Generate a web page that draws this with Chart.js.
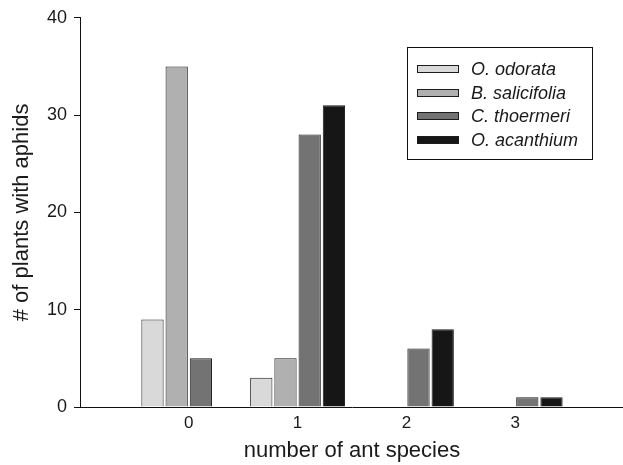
<!DOCTYPE html>
<html><head><meta charset="utf-8">
<script src="https://cdn.jsdelivr.net/npm/chart.js@4"></script>
<style>
html,body{margin:0;padding:0;background:#fff;overflow:hidden;}
#wrap{width:623px;height:465px;overflow:hidden;position:relative;}
canvas{display:block;}
</style></head><body>
<div id="wrap"><canvas id="c" width="630" height="465"></canvas></div>
<script>
// ---- data ----
const categories = ['0', '1', '2', '3'];
const seriesNames = ['O. odorata', 'B. salicifolia', 'C. thoermeri', 'O. acanthium'];
const odorata     = [9, 3, 0, 0];
const salicifolia = [35, 5, 0, 0];
const thoermeri   = [5, 28, 6, 1];
const acanthium   = [0, 31, 8, 1];
const yTicks = [0, 10, 20, 30, 40];
const xTitle = 'number of ant species';
const yTitle = '# of plants with aphids';

// ---- styles ----
const fills = ['#d9d9d9', '#b0b0b0', '#737373', '#161616'];
const FONT = '"Liberation Sans", Arial, Helvetica, sans-serif';
const TXT = '#1a1a1a';

// empty slot on each side of the categories (axis spans one extra slot)
const labels = [''].concat(categories, ['']);
const pad = arr => [null].concat(arr, [null]);
const series = [odorata, salicifolia, thoermeri, acanthium];

const datasets = series.map((s, i) => ({
  label: seriesNames[i],
  data: pad(s),
  backgroundColor: fills[i],
  borderColor: '#1c1c1c',
  borderWidth: 1,
  borderSkipped: 'bottom',
  categoryPercentage: 0.89,
  barPercentage: 0.92
}));

const boxLegend = {
  id: 'boxLegend',
  afterDraw(chart) {
    const ctx = chart.ctx;
    ctx.save();
    ctx.lineWidth = 1;
    ctx.strokeStyle = '#111';
    ctx.strokeRect(407.5, 47.5, 185, 112);
    ctx.font = 'italic 18px ' + FONT;
    ctx.textBaseline = 'middle';
    ctx.textAlign = 'left';
    chart.data.datasets.forEach((ds, i) => {
      const y = Math.round(69 + i * 23.6);
      ctx.fillStyle = ds.backgroundColor;
      ctx.fillRect(417.5, y - 3.5, 41, 7);
      ctx.strokeStyle = '#1c1c1c';
      ctx.strokeRect(417.5, y - 3.5, 41, 7);
      ctx.fillStyle = TXT;
      ctx.fillText(ds.label, 471, y + 1);
    });
    ctx.restore();
  }
};

new Chart(document.getElementById('c'), {
  type: 'bar',
  data: { labels, datasets },
  plugins: [boxLegend],
  options: {
    responsive: false,
    animation: false,
    layout: { padding: { top: 14, right: 0, bottom: 0, left: 0 } },
    plugins: { legend: { display: false }, tooltip: { enabled: false } },
    scales: {
      x: {
        type: 'category',
        offset: false,
        grid: { display: false, drawTicks: false },
        border: { display: true, color: '#111', width: 1 },
        ticks: { color: TXT, font: { family: FONT, size: 17 }, padding: 6, maxRotation: 0, autoSkip: false },
        title: { display: true, text: xTitle, color: TXT, font: { family: FONT, size: 22, lineHeight: 1.2 }, padding: { top: 0, bottom: 1 } },
        afterFit: s => { s.height = 58; }
      },
      y: {
        min: yTicks[0],
        max: yTicks[yTicks.length - 1],
        afterBuildTicks: s => { s.ticks = yTicks.map(v => ({ value: v })); },
        grid: { display: true, drawOnChartArea: false, drawTicks: true, tickLength: 6, color: '#111', lineWidth: 1 },
        border: { display: true, color: '#111', width: 1 },
        ticks: { color: TXT, font: { family: FONT, size: 18 }, padding: 7 },
        title: { display: true, text: yTitle, color: TXT, font: { family: FONT, size: 22, lineHeight: 1.2 }, padding: { top: 9, bottom: 0 } },
        afterFit: s => { s.width = 80; }
      }
    }
  }
});
</script>
</body></html>
